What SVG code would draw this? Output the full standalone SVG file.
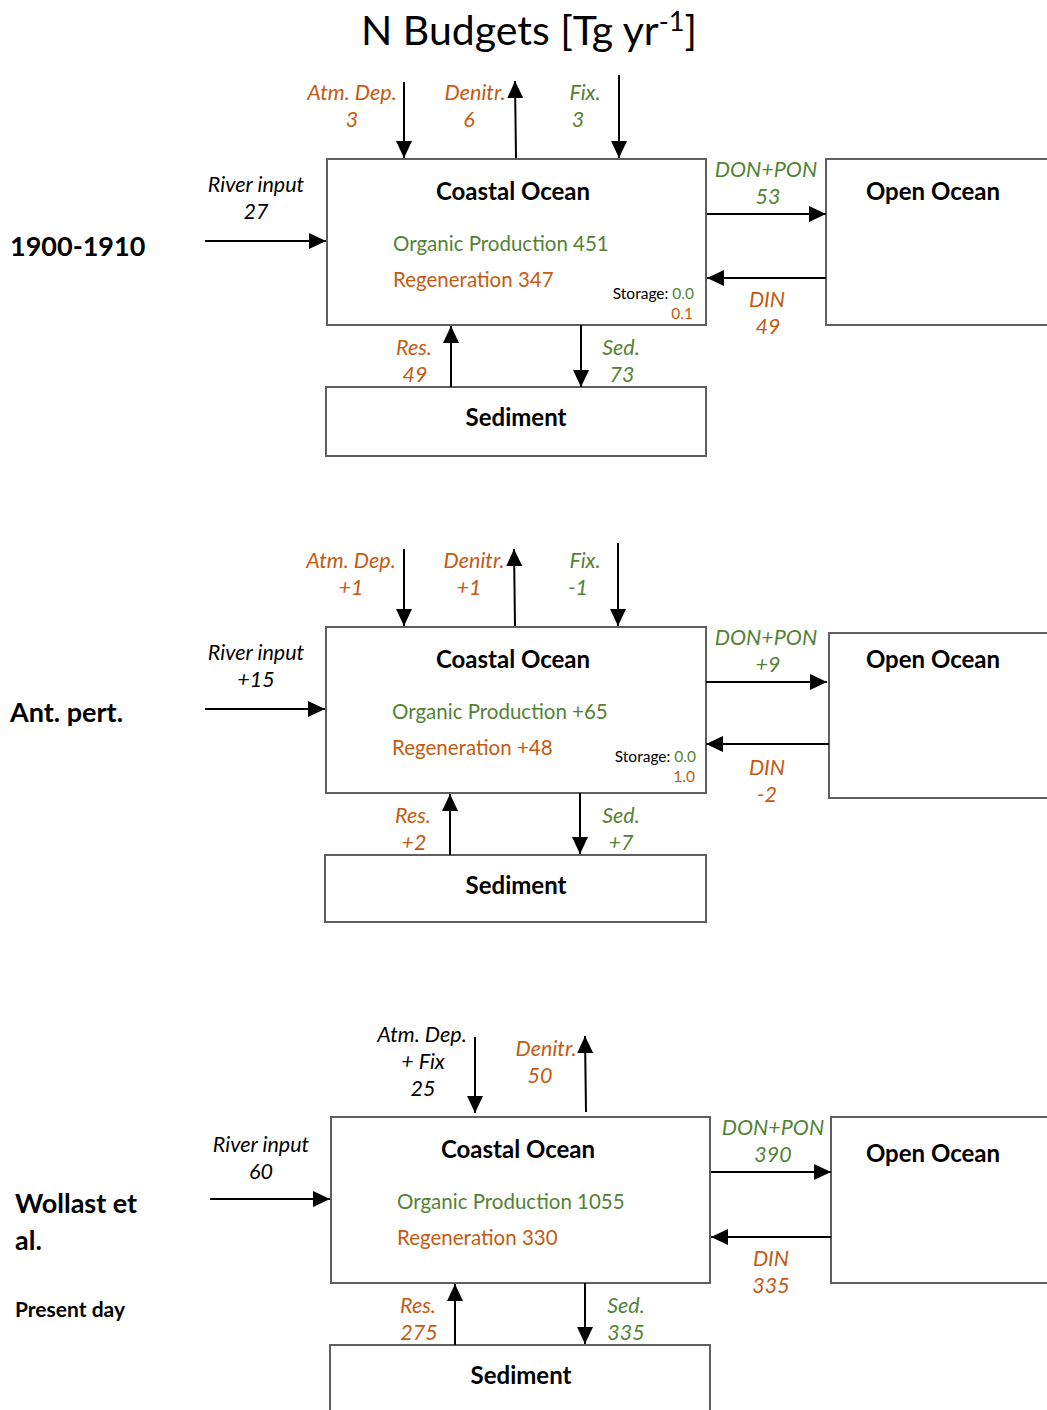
<svg xmlns="http://www.w3.org/2000/svg" width="1047" height="1410" viewBox="0 0 1047 1410">
  <defs>
    <marker id="head" markerUnits="userSpaceOnUse" markerWidth="18" markerHeight="18" viewBox="0 0 18 18" refX="17" refY="9" orient="auto">
      <path d="M0,1 L17,9 L0,17 Z" fill="#000"/>
    </marker>
    <style>
      text { font-family: Lato, "Open Sans", "Liberation Sans", sans-serif; }
      .box { fill: #fff; stroke: #5f5f5f; stroke-width: 2; }
      .flow { stroke: #000; stroke-width: 2; fill: none; marker-end: url(#head); }
      .title { font-size: 41px; fill: #000; }
      .era { font-size: 27px; font-weight: bold; fill: #000; }
      .sub { font-size: 21px; font-weight: bold; fill: #000; }
      .name { font-size: 24px; font-weight: bold; fill: #000; text-anchor: middle; }
      .lbl { font-size: 21.5px; font-style: italic; text-anchor: middle; }
      .body { font-size: 20.5px; }
      .store { font-size: 15.5px; text-anchor: end; }
      .k { fill: #000; }
      .g { fill: #548235; }
      .o { fill: #c55a11; }
    </style>
  </defs>

  <text class="title" x="529" y="45" text-anchor="middle">N Budgets [Tg yr<tspan dy="-14" font-size="27">-1</tspan><tspan dy="14">]</tspan></text>

  <!-- ===== 1900-1910 ===== -->
  <text class="era" x="10" y="256">1900-1910</text>
  <g id="coastal-1">
    <rect class="box" x="327" y="159" width="379" height="166"/>
    <text class="name" x="513" y="200">Coastal Ocean</text>
    <text class="body g" x="393" y="251">Organic Production 451</text>
    <text class="body o" x="393" y="287">Regeneration 347</text>
    <text class="store" x="694" y="299"><tspan class="k">Storage: </tspan><tspan class="g">0.0</tspan></text>
    <text class="store o" x="693" y="319">0.1</text>
  </g>
  <g id="open-1">
    <rect class="box" x="826" y="159" width="240" height="166"/>
    <text class="name" x="933" y="200">Open Ocean</text>
  </g>
  <g id="sediment-1">
    <rect class="box" x="326" y="387" width="380" height="69"/>
    <text class="name" x="516" y="426">Sediment</text>
  </g>
  <g id="connectors-1">
    <line class="flow" x1="205" y1="241" x2="326" y2="241"/>
    <line class="flow" x1="404" y1="82" x2="404" y2="158"/>
    <line class="flow" x1="516" y1="158" x2="515" y2="81"/>
    <line class="flow" x1="619" y1="75" x2="619" y2="158"/>
    <line class="flow" x1="707" y1="214" x2="826" y2="214"/>
    <line class="flow" x1="826" y1="278" x2="707" y2="278"/>
    <line class="flow" x1="451" y1="387" x2="451" y2="326"/>
    <line class="flow" x1="581" y1="325" x2="581" y2="387"/>
    <text class="lbl k" x="256" y="192">River input</text>
    <text class="lbl k" x="256" y="219">27</text>
    <text class="lbl o" x="352" y="100">Atm. Dep.</text>
    <text class="lbl o" x="352" y="127">3</text>
    <text class="lbl o" x="475" y="100">Denitr.</text>
    <text class="lbl o" x="469" y="127">6</text>
    <text class="lbl g" x="585" y="100">Fix.</text>
    <text class="lbl g" x="578" y="127">3</text>
    <text class="lbl g" x="766" y="177">DON+PON</text>
    <text class="lbl g" x="768" y="204">53</text>
    <text class="lbl o" x="767" y="307">DIN</text>
    <text class="lbl o" x="768" y="334">49</text>
    <text class="lbl o" x="414" y="355">Res.</text>
    <text class="lbl o" x="415" y="382">49</text>
    <text class="lbl g" x="621" y="355">Sed.</text>
    <text class="lbl g" x="622" y="382">73</text>
  </g>

  <!-- ===== Anthropogenic perturbation ===== -->
  <text class="era" x="10" y="722">Ant. pert.</text>
  <g id="coastal-2">
    <rect class="box" x="326" y="627" width="380" height="166"/>
    <text class="name" x="513" y="668">Coastal Ocean</text>
    <text class="body g" x="392" y="719">Organic Production +65</text>
    <text class="body o" x="392" y="755">Regeneration +48</text>
    <text class="store" x="696" y="762"><tspan class="k">Storage: </tspan><tspan class="g">0.0</tspan></text>
    <text class="store o" x="695" y="782">1.0</text>
  </g>
  <g id="open-2">
    <rect class="box" x="829" y="633" width="240" height="165"/>
    <text class="name" x="933" y="668">Open Ocean</text>
  </g>
  <g id="sediment-2">
    <rect class="box" x="325" y="855" width="381" height="67"/>
    <text class="name" x="516" y="894">Sediment</text>
  </g>
  <g id="connectors-2">
    <line class="flow" x1="205" y1="709" x2="325" y2="709"/>
    <line class="flow" x1="404" y1="549" x2="404" y2="626"/>
    <line class="flow" x1="515" y1="626" x2="514" y2="549"/>
    <line class="flow" x1="618" y1="543" x2="618" y2="626"/>
    <line class="flow" x1="706" y1="682" x2="827" y2="682"/>
    <line class="flow" x1="829" y1="744" x2="706" y2="744"/>
    <line class="flow" x1="450" y1="855" x2="450" y2="794"/>
    <line class="flow" x1="580" y1="793" x2="580" y2="854"/>
    <text class="lbl k" x="256" y="660">River input</text>
    <text class="lbl k" x="256" y="687">+15</text>
    <text class="lbl o" x="351" y="568">Atm. Dep.</text>
    <text class="lbl o" x="351" y="595">+1</text>
    <text class="lbl o" x="474" y="568">Denitr.</text>
    <text class="lbl o" x="469" y="595">+1</text>
    <text class="lbl g" x="585" y="568">Fix.</text>
    <text class="lbl g" x="578" y="595">-1</text>
    <text class="lbl g" x="766" y="645">DON+PON</text>
    <text class="lbl g" x="768" y="672">+9</text>
    <text class="lbl o" x="767" y="775">DIN</text>
    <text class="lbl o" x="767" y="802">-2</text>
    <text class="lbl o" x="413" y="823">Res.</text>
    <text class="lbl o" x="414" y="850">+2</text>
    <text class="lbl g" x="621" y="823">Sed.</text>
    <text class="lbl g" x="621" y="850">+7</text>
  </g>

  <!-- ===== Wollast et al., present day ===== -->
  <text class="era" x="15" y="1213">Wollast et</text>
  <text class="era" x="15" y="1250">al.</text>
  <text class="sub" x="15" y="1317">Present day</text>
  <g id="coastal-3">
    <rect class="box" x="331" y="1117" width="379" height="166"/>
    <text class="name" x="518" y="1158">Coastal Ocean</text>
    <text class="body g" x="397" y="1209">Organic Production 1055</text>
    <text class="body o" x="397" y="1245">Regeneration 330</text>
  </g>
  <g id="open-3">
    <rect class="box" x="831" y="1117" width="240" height="166"/>
    <text class="name" x="933" y="1162">Open Ocean</text>
  </g>
  <g id="sediment-3">
    <rect class="box" x="330" y="1345" width="380" height="80"/>
    <text class="name" x="521" y="1384">Sediment</text>
  </g>
  <g id="connectors-3">
    <line class="flow" x1="210" y1="1199" x2="330" y2="1199"/>
    <line class="flow" x1="475" y1="1037" x2="475" y2="1113"/>
    <line class="flow" x1="586" y1="1112" x2="585" y2="1036"/>
    <line class="flow" x1="711" y1="1172" x2="831" y2="1172"/>
    <line class="flow" x1="831" y1="1237" x2="711" y2="1237"/>
    <line class="flow" x1="455" y1="1345" x2="455" y2="1284"/>
    <line class="flow" x1="585" y1="1283" x2="585" y2="1344"/>
    <text class="lbl k" x="261" y="1152">River input</text>
    <text class="lbl k" x="261" y="1179">60</text>
    <text class="lbl k" x="422" y="1042">Atm. Dep.</text>
    <text class="lbl k" x="423" y="1069">+ Fix</text>
    <text class="lbl k" x="423" y="1096">25</text>
    <text class="lbl o" x="546" y="1056">Denitr.</text>
    <text class="lbl o" x="540" y="1083">50</text>
    <text class="lbl g" x="773" y="1135">DON+PON</text>
    <text class="lbl g" x="773" y="1162">390</text>
    <text class="lbl o" x="771" y="1266">DIN</text>
    <text class="lbl o" x="771" y="1293">335</text>
    <text class="lbl o" x="418" y="1313">Res.</text>
    <text class="lbl o" x="419" y="1340">275</text>
    <text class="lbl g" x="626" y="1313">Sed.</text>
    <text class="lbl g" x="626" y="1340">335</text>
  </g>
</svg>
